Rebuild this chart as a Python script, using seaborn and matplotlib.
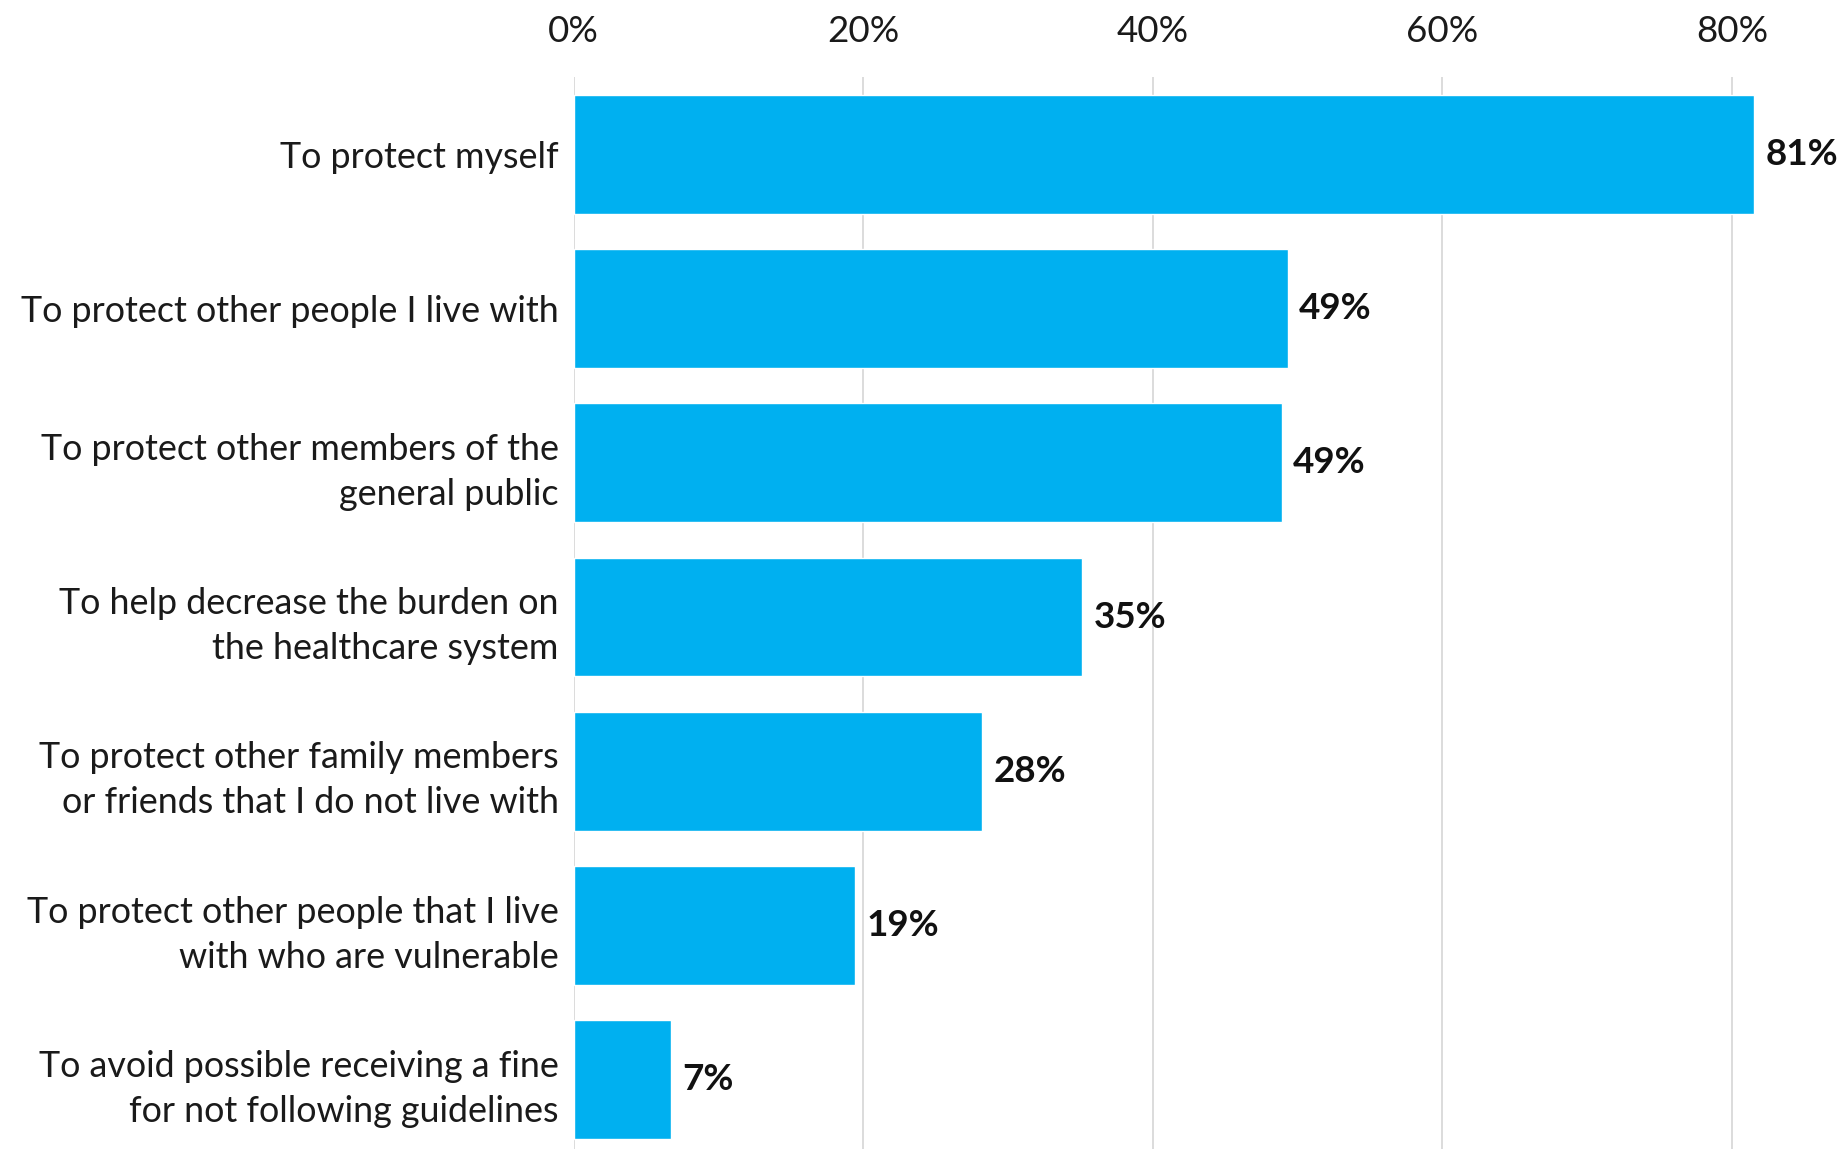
import pandas as pd
import matplotlib
matplotlib.use("Agg")
import matplotlib.pyplot as plt
import seaborn as sns

# reasons and share of respondents (%)
reasons = [
    "To protect myself",
    "To protect other people I live with",
    "To protect other members of the\ngeneral public",
    "To help decrease the burden on\nthe healthcare system",
    "To protect other family members\nor friends that I do not live with",
    "To protect other people that I live\nwith who are vulnerable",
    "To avoid possible receiving a fine\nfor not following guidelines",
]
bar_values = [81.5, 49.3, 48.9, 35.1, 28.2, 19.4, 6.7]
value_labels = ["81%", "49%", "49%", "35%", "28%", "19%", "7%"]
tick_values = [0, 20, 40, 60, 80]
tick_labels = ["0%", "20%", "40%", "60%", "80%"]

df = pd.DataFrame({"reason": reasons, "value": bar_values})

sns.set_theme(style="white")
plt.rcParams["font.family"] = ["Lato", "DejaVu Sans"]

fig = plt.figure(figsize=(18.42, 11.49), dpi=100)
ax = fig.add_axes([0.3115, -0.007, 0.6885, 0.940])

sns.barplot(data=df, x="value", y="reason", color="#00B0F0", width=0.77,
            saturation=1, ax=ax, zorder=2)

ax.set_xlim(0, 87.6)
ax.set_ylim(6.5, -0.5)
ax.set_xticks(tick_values)
ax.set_xticklabels(tick_labels)
ax.xaxis.tick_top()
ax.tick_params(axis="x", length=0, pad=21, labelsize=26.5, colors="#1a1a1a")
ax.tick_params(axis="y", length=0, pad=11, labelsize=25.8, colors="#1a1a1a")
for lab in ax.get_yticklabels():
    lab.set_horizontalalignment("right")
    lab.set_multialignment("right")
    lab.set_linespacing(1.45)
ax.set_xlabel("")
ax.set_ylabel("")
ax.grid(axis="x", color="#d9d9d9", linewidth=1.3, zorder=0)
for s in ax.spines.values():
    s.set_visible(False)

for i, (v, t) in enumerate(zip(bar_values, value_labels)):
    ax.text(v + 0.8, i, t, va="center", ha="left", fontsize=26.5,
            fontweight="bold", color="#111111")

fig.savefig("out.png", dpi=100)
